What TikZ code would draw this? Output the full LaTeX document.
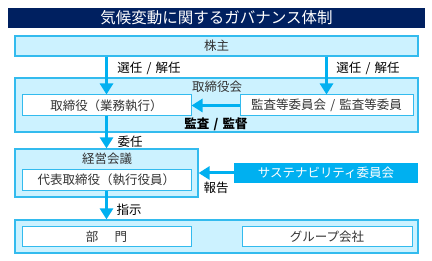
\documentclass[tikz,border=0pt]{standalone}
\usepackage{fontspec}
\setmainfont{Noto Sans CJK JP}
\usetikzlibrary{arrows.meta}
\definecolor{navy}{HTML}{002060}
\definecolor{lblue}{HTML}{CCF2FF}
\definecolor{bblue}{HTML}{33BBEE}
\definecolor{abblue}{HTML}{00B0F0}
\definecolor{txt}{HTML}{333333}
\newcommand\slsep{\hspace{0.33em}/\hspace{0.33em}}
\tikzset{
  outerbox/.style={draw=bblue, line width=1.2pt, fill=lblue, inner sep=0pt},
  innerbox/.style={draw=bblue, line width=1pt, fill=white, inner sep=0pt, text=txt, font=\fontsize{12.5}{14}\selectfont},
  boxlabel/.style={text=txt, font=\fontsize{12.5}{14}\selectfont, inner sep=0pt},
  edgelabel/.style={text=black, font=\fontsize{12.5}{14}\selectfont, inner sep=0pt},
  flow/.style={draw=abblue, line width=3pt, -{Triangle[width=13pt,length=11pt]}},
}
\begin{document}
\begin{tikzpicture}[x=1pt,y=-1pt]
\useasboundingbox (0,0) rectangle (432,261);
\fill[white] (0,0) rectangle (432,261);
% title
\node[fill=navy, minimum width=417pt, minimum height=20pt, inner sep=0pt, text=white, font=\fontsize{15.5}{17}\selectfont] (title) at (216.5,18) {気候変動に関するガバナンス体制};
% shareholders
\node[outerbox, minimum width=403pt, minimum height=20pt, text=txt, font=\fontsize{12.5}{14}\selectfont] (kabu) at (216.5,46) {株主};
% board
\node[outerbox, minimum width=403pt, minimum height=54pt] (board) at (216.5,105) {};
\node[boxlabel] (boardlbl) at (217,87) {取締役会};
\node[innerbox, minimum width=169pt, minimum height=21pt] (tori) at (106.5,105.5) {取締役（業務執行）};
\node[innerbox, minimum width=173pt, minimum height=21pt] (kansa) at (326.5,105.5) {監査等委員会\slsep 監査等委員};
% management meeting
\node[outerbox, minimum width=183pt, minimum height=48pt] (keiei) at (106.5,173) {};
\node[boxlabel] (keieilbl) at (107,159) {経営会議};
\node[innerbox, minimum width=169pt, minimum height=21pt] (daihyo) at (106.5,180) {代表取締役（執行役員）};
% sustainability committee
\node[fill=abblue, minimum width=184pt, minimum height=20pt, inner sep=0pt, text=white, font=\fontsize{12.5}{14}\selectfont] (sus) at (326,173) {サステナビリティ委員会};
% bottom
\node[outerbox, minimum width=403pt, minimum height=33pt] (bottom) at (216.5,236.5) {};
\node[innerbox, minimum width=169pt, minimum height=20pt] (bumon) at (106.5,236.5) {部\hspace{1.3em}門};
\node[innerbox, minimum width=170pt, minimum height=20pt] (group) at (327,236.5) {グループ会社};
% arrows
\draw[flow] (tori.north |- kabu.south) -- (tori.north);
\draw[flow] (kansa.north |- kabu.south) -- (kansa.north);
\draw[flow] (kansa.west) -- (tori.east);
\draw[flow] (tori.south) -- (tori.south |- keiei.north);
\draw[flow] (sus.west) -- (sus.west -| keiei.east);
\draw[flow] (daihyo.south) -- (daihyo.south |- bottom.north);
% labels
\node[edgelabel] (l1) at (149,68) {選任\slsep 解任};
\node[edgelabel] (l2) at (368,68) {選任\slsep 解任};
\node[edgelabel, font=\fontsize{12.5}{14}\selectfont\bfseries] (l3) at (216,124) {監査\slsep 監督};
\node[edgelabel] (l4) at (130,142) {委任};
\node[edgelabel] (l5) at (216,188) {報告};
\node[edgelabel] (l6) at (129,210) {指示};
\end{tikzpicture}
\end{document}
